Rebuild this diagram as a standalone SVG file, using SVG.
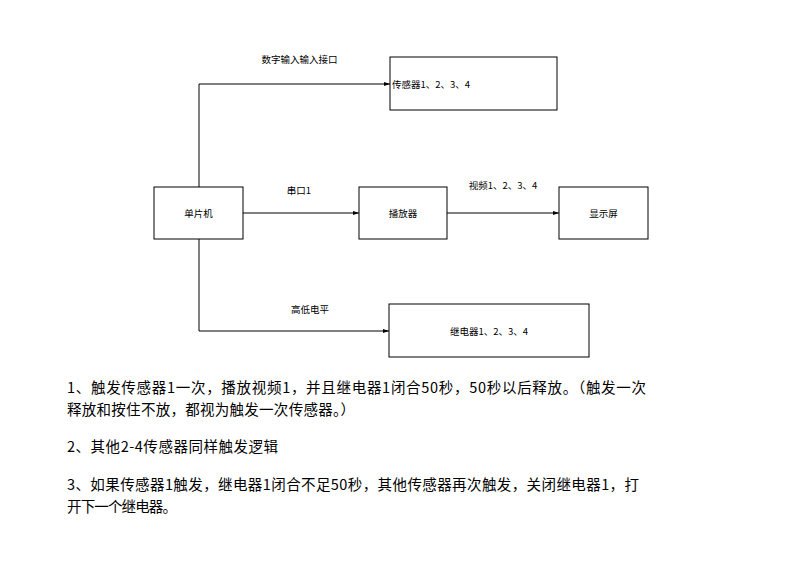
<svg xmlns="http://www.w3.org/2000/svg" width="800" height="566" viewBox="0 0 800 566">
<style>
.box{fill:#fff;stroke:#000;stroke-width:1}
.lbl{font-family:"Noto Sans CJK SC","Noto Sans",sans-serif;font-size:9.5px;fill:#000}
.c{text-anchor:middle}
.edge{fill:none;stroke:#000;stroke-width:1}
.note{font-family:"Noto Sans CJK SC","Noto Sans",sans-serif;font-size:14.5px;fill:#000}
</style>
<defs>
<marker id="arr" viewBox="0 0 10 10" refX="10" refY="5" markerWidth="6" markerHeight="6" orient="auto" markerUnits="userSpaceOnUse">
<path d="M0,1.5 L10,5 L0,8.5 Z" fill="#000"/>
</marker>
</defs>
<rect width="800" height="566" fill="#fff"/>
<g id="connectors">
<path class="edge" d="M199,187 V84 H390" marker-end="url(#arr)"/>
<path class="edge" d="M243,213 H359" marker-end="url(#arr)"/>
<path class="edge" d="M447,213 H559" marker-end="url(#arr)"/>
<path class="edge" d="M199,239 V331 H389" marker-end="url(#arr)"/>
<text class="lbl c" x="299.5" y="63">数字输入输入接口</text>
<text class="lbl c" x="299" y="194">串口1</text>
<text class="lbl c" x="503" y="189">视频1、2、3、4</text>
<text class="lbl c" x="310" y="313">高低电平</text>
</g>
<g id="sensor">
<rect class="box" x="390" y="57" width="167" height="53"/>
<text class="lbl" x="392" y="88">传感器1、2、3、4</text>
</g>
<g id="mcu">
<rect class="box" x="154" y="187" width="89" height="52"/>
<text class="lbl c" x="198.5" y="217">单片机</text>
</g>
<g id="player">
<rect class="box" x="359" y="187" width="88" height="52"/>
<text class="lbl c" x="403" y="217">播放器</text>
</g>
<g id="display">
<rect class="box" x="559" y="187" width="89" height="52"/>
<text class="lbl c" x="603.5" y="217">显示屏</text>
</g>
<g id="relay">
<rect class="box" x="389" y="304" width="200" height="53"/>
<text class="lbl c" x="489" y="335">继电器1、2、3、4</text>
</g>
<g id="notes">
<text class="note" x="67" y="393" textLength="579" lengthAdjust="spacing">1、触发传感器1一次，播放视频1，并且继电器1闭合50秒，50秒以后释放。（触发一次</text>
<text class="note" x="67" y="415" textLength="288" lengthAdjust="spacing">释放和按住不放，都视为触发一次传感器。）</text>
<text class="note" x="67" y="452" textLength="211" lengthAdjust="spacing">2、其他2-4传感器同样触发逻辑</text>
<text class="note" x="67" y="490" textLength="572" lengthAdjust="spacing">3、如果传感器1触发，继电器1闭合不足50秒，其他传感器再次触发，关闭继电器1，打</text>
<text class="note" x="67" y="512" textLength="110" lengthAdjust="spacing">开下一个继电器。</text>
</g>
</svg>
